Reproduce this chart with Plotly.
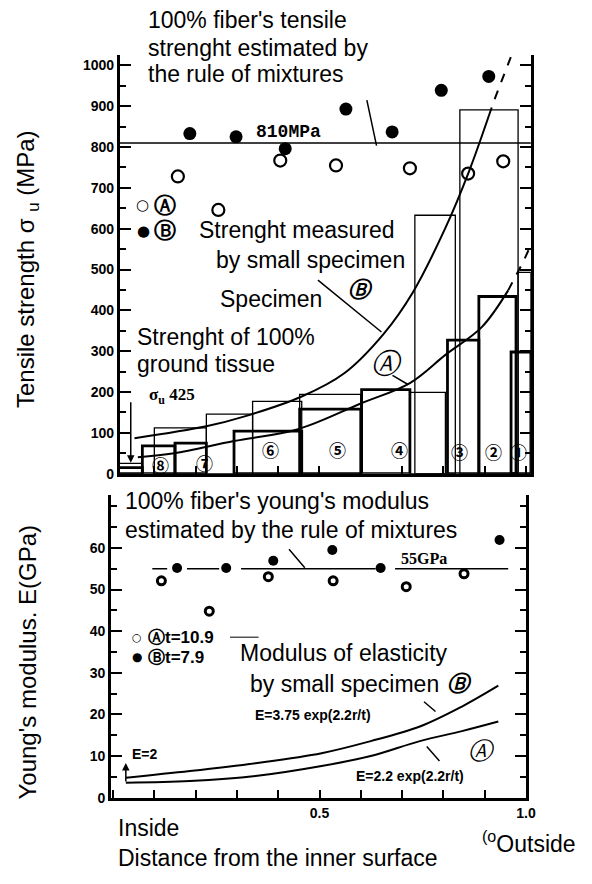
import plotly.graph_objects as go

W, H = 592, 884

# ---------------- DATA ----------------
# Top panel: tensile strength (MPa) vs relative distance r/t
ref_tensile = 810  # rule of mixtures estimate

solid_B_x = [0.186, 0.298, 0.417, 0.564, 0.676, 0.795, 0.910]
solid_B_y = [833, 825, 796, 893, 837, 939, 973]
open_A_x = [0.157, 0.255, 0.405, 0.540, 0.719, 0.860, 0.945]
open_A_y = [728, 646, 767, 755, 748, 735, 765]

curveA_x = [0.060, 0.148, 0.293, 0.448, 0.600, 0.719, 0.805, 0.893, 0.957]
curveA_y = [40, 50, 80, 109, 172, 222, 291, 359, 449]
curveA_dash_x = [0.957, 0.995, 1.014]
curveA_dash_y = [449, 522, 565]

curveB_x = [0.052, 0.226, 0.321, 0.457, 0.560, 0.655, 0.726, 0.805, 0.862, 0.910]
curveB_y = [87, 116, 141, 189, 246, 342, 444, 602, 740, 876]
curveB_dash_x = [0.910, 0.924, 0.964]
curveB_dash_y = [876, 917, 1022]

# small-specimen strength blocks (left edge, right edge, height)
thin_x0 = [0.000, 0.100, 0.226, 0.338, 0.452, 0.719, 0.731, 0.840, 0.981]
thin_x1 = [0.071, 0.226, 0.338, 0.457, 0.600, 0.805, 0.829, 0.981, 1.012]
thin_h = [25, 112, 146, 177, 194, 199, 633, 891, 493]
thick_x0 = [0.000, 0.071, 0.150, 0.293, 0.452, 0.602, 0.810, 0.886, 0.964]
thick_x1 = [0.071, 0.150, 0.226, 0.457, 0.600, 0.719, 0.886, 0.976, 1.012]
thick_h = [15, 68, 75, 104, 158, 206, 327, 434, 298]

region_labels = ["①", "②", "③", "④", "⑤", "⑥", "⑦", "⑧", "⑨"]
region_x = [0.983, 0.921, 0.840, 0.695, 0.543, 0.381, 0.221, 0.114, 0.036]
region_y = [55, 55, 55, 58, 58, 58, 27, 22, -17]

# Bottom panel: Young's modulus (GPa)
ref_modulus = 55
mix_seg_x0 = [0.095, 0.179, 0.310, 0.683]
mix_seg_x1 = [0.131, 0.257, 0.636, 0.957]

modB_x = [0.155, 0.274, 0.388, 0.531, 0.648, 0.936]
modB_y = [55.2, 55.2, 56.9, 59.5, 55.2, 61.9]
modA_x = [0.117, 0.233, 0.376, 0.533, 0.710, 0.850]
modA_y = [52.1, 44.8, 53.1, 52.1, 50.7, 53.8]

EB_x = [0.031, 0.186, 0.345, 0.505, 0.624, 0.743, 0.845, 0.933]
EB_y = [4.8, 6.4, 8.3, 10.7, 13.6, 17.1, 21.9, 26.9]
EA_x = [0.031, 0.186, 0.345, 0.505, 0.624, 0.743, 0.845, 0.933]
EA_y = [3.6, 4.0, 5.2, 7.6, 10.0, 13.6, 16.0, 18.3]

top_yticks = list(range(0, 1001, 100))
bot_yticks = list(range(0, 61, 10))
bot_xticks = [0.5, 1.0]
bot_xticklabels = ["0.5", "1.0"]

# ---------------- FIGURE ----------------
def px(x):
    return x / W

def py(y):
    return 1 - y / H

SANS = "Liberation Sans"
CJK = "Noto Sans CJK JP"
fig = go.Figure()

def bar_trace(x0, x1, h, lw):
    return go.Bar(
        x=[(a + b) / 2 for a, b in zip(x0, x1)],
        y=h,
        width=[b - a for a, b in zip(x0, x1)],
        marker=dict(color="rgba(0,0,0,0)", line=dict(color="black", width=lw)),
        xaxis="x", yaxis="y", showlegend=False, hoverinfo="skip",
    )

fig.add_trace(bar_trace(thin_x0, thin_x1, thin_h, 1.3))
fig.add_trace(bar_trace(thick_x0, thick_x1, thick_h, 2.8))

line_kw = dict(mode="lines", showlegend=False, hoverinfo="skip")
fig.add_trace(go.Scatter(x=[0.0167, 1.012], y=[ref_tensile] * 2,
                         line=dict(color="black", width=1.5), xaxis="x", yaxis="y", **line_kw))
fig.add_trace(go.Scatter(x=curveA_x, y=curveA_y, line=dict(color="black", width=2, shape="spline"),
                         xaxis="x", yaxis="y", **line_kw))
fig.add_trace(go.Scatter(x=curveA_dash_x, y=curveA_dash_y, line=dict(color="black", width=2, dash="dash"),
                         xaxis="x", yaxis="y", **line_kw))
fig.add_trace(go.Scatter(x=curveB_x, y=curveB_y, line=dict(color="black", width=2, shape="spline"),
                         xaxis="x", yaxis="y", **line_kw))
fig.add_trace(go.Scatter(x=curveB_dash_x, y=curveB_dash_y, line=dict(color="black", width=2, dash="dash"),
                         xaxis="x", yaxis="y", **line_kw))
fig.add_trace(go.Scatter(x=solid_B_x, y=solid_B_y, mode="markers",
                         marker=dict(size=13, color="black"), xaxis="x", yaxis="y",
                         showlegend=False, hoverinfo="skip"))
fig.add_trace(go.Scatter(x=open_A_x, y=open_A_y, mode="markers",
                         marker=dict(size=12, symbol="circle-open", color="black", line=dict(width=2.2)),
                         xaxis="x", yaxis="y", showlegend=False, hoverinfo="skip"))

mx, my = [], []
for a, b in zip(mix_seg_x0, mix_seg_x1):
    mx += [a, b, None]
    my += [ref_modulus, ref_modulus, None]
fig.add_trace(go.Scatter(x=mx, y=my, line=dict(color="black", width=1.5), xaxis="x2", yaxis="y2", **line_kw))
fig.add_trace(go.Scatter(x=EB_x, y=EB_y, line=dict(color="black", width=2, shape="spline"),
                         xaxis="x2", yaxis="y2", **line_kw))
fig.add_trace(go.Scatter(x=EA_x, y=EA_y, line=dict(color="black", width=2, shape="spline"),
                         xaxis="x2", yaxis="y2", **line_kw))
fig.add_trace(go.Scatter(x=modB_x, y=modB_y, mode="markers", marker=dict(size=10, color="black"),
                         xaxis="x2", yaxis="y2", showlegend=False, hoverinfo="skip"))
fig.add_trace(go.Scatter(x=modA_x, y=modA_y, mode="markers",
                         marker=dict(size=8, symbol="circle-open", color="black", line=dict(width=3)),
                         xaxis="x2", yaxis="y2", showlegend=False, hoverinfo="skip"))

ann = []

def text(t, x, y, size=23, anchor="left", family=SANS, weight="normal", style="normal", angle=0):
    ann.append(dict(text=t, x=px(x), y=py(y), xref="paper", yref="paper", showarrow=False,
                    xanchor=anchor, yanchor="middle", textangle=angle,
                    font=dict(family=family, size=size, color="black", weight=weight, style=style)))

def pointer(x1, y1, x2, y2, head=0, w=1.5):
    ann.append(dict(text="", x=px(x2), y=py(y2), ax=x1 - x2, ay=y1 - y2, xref="paper", yref="paper",
                    axref="pixel", ayref="pixel", showarrow=True, arrowhead=head, arrowwidth=w,
                    arrowsize=1, arrowcolor="black", standoff=0, startstandoff=0))

# top texts
text("100% fiber's tensile", 148, 20)
text("strenght estimated by", 148, 48)
text("the rule of mixtures", 148, 75)
text("Strenght measured", 200, 232)
text("by small specimen", 218, 262)
text("Specimen", 222, 302)
text("Strenght of 100%", 137, 340)
text("ground tissue", 137, 367)
text("σ<sub>u</sub> 425", 150, 400, size=17, family="Liberation Serif", weight="bold")
text("810MPa", 258, 133, size=18, family="Liberation Mono", weight="bold")
text("○", 145, 207, size=15, anchor="center", family="DejaVu Sans")
text("●", 146, 233, size=15, anchor="center", family="DejaVu Sans")
text("Ⓐ", 168, 207, size=22, anchor="center", family="DejaVu Sans", weight="bold")
text("Ⓑ", 168, 233, size=22, anchor="center", family="DejaVu Sans", weight="bold")
text("Ⓑ", 367, 292, size=22, anchor="center", family="DejaVu Sans", style="italic", weight="bold")
text("Ⓐ", 393, 367, size=28, anchor="center", family="DejaVu Sans", style="italic")
pointer(373, 100, 383, 147)
pointer(323, 282, 388, 335)
pointer(398, 378, 415, 388)
pointer(133, 405, 133, 467, head=2, w=1.5)

for lab, rx, ry in zip(region_labels, region_x, region_y):
    ann.append(dict(text=lab, x=rx, y=ry, xref="x", yref="y", showarrow=False,
                    font=dict(family=CJK, size=17, color="black", weight="bold")))

# bottom texts
text("100% fiber's young's modulus", 125, 506)
text("estimated by the rule of mixtures", 125, 535)
text("55GPa", 406, 564, size=16, family="Liberation Serif", weight="bold")
text("○", 139, 643, size=11, anchor="center", family="DejaVu Sans", weight="bold")
text("●", 139, 663, size=12, anchor="center", family="DejaVu Sans")
text("Ⓐt=10.9", 148, 643, size=17, weight="bold")
text("Ⓑt=7.9", 148, 664, size=17, weight="bold")
text("Modulus of elasticity", 242, 659)
text("by small specimen", 252, 690)
text("Ⓑ", 467, 690, size=22, anchor="center", family="DejaVu Sans", style="italic", weight="bold")
text("E=3.75 exp(2.2r/t)", 257, 722, size=14, weight="bold")
text("E=2.2 exp(2.2r/t)", 360, 783, size=14, weight="bold")
text("Ⓐ", 490, 758, size=24, anchor="center", family="DejaVu Sans", style="italic")
text("E=2", 132, 761, size=14, weight="bold")
pointer(293, 553, 310, 573)
pointer(430, 707, 443, 718)
pointer(433, 752, 447, 768)
pointer(128, 790, 128, 770, head=2, w=1.5)
pointer(233, 643, 263, 643, w=1)

text("Inside", 118, 836)
text("<sup>(o</sup>Outside", 488, 850)
text("Distance from the inner surface", 118, 866)

text("Tensile strength σ <sub>u</sub> (MPa)", 28, 272, size=24, anchor="center", angle=-90)
text("Young's modulus. E(GPa)", 28, 668, size=24, anchor="center", angle=-90)

tickfont = dict(family=SANS, size=14, color="black", weight="bold")
axis_common = dict(showgrid=False, zeroline=False, linecolor="black", linewidth=3,
                   showline=True, ticks="inside", tickcolor="black", tickwidth=2)

fig.update_layout(
    width=W, height=H, margin=dict(l=0, r=0, t=0, b=0),
    paper_bgcolor="white", plot_bgcolor="white", barmode="overlay", showlegend=False,
    xaxis=dict(domain=[px(122), px(540)], range=[0.0167, 1.012], anchor="y",
               dtick=0.1, tick0=0, ticklen=8, showticklabels=False, mirror=False, **axis_common),
    yaxis=dict(domain=[py(478), py(55)], range=[0, 1026.7], anchor="x",
               tickvals=top_yticks, ticklen=11, tickfont=tickfont, mirror="ticks",
               minor=dict(dtick=50, ticks="inside", ticklen=6, tickcolor="black", tickwidth=2),
               **axis_common),
    xaxis2=dict(domain=[px(113), px(535)], range=[-0.0048, 1.0], anchor="y2",
                tickvals=bot_xticks, ticktext=bot_xticklabels, ticklen=8, tickfont=tickfont,
                minor=dict(dtick=0.1, tick0=0, ticks="inside", ticklen=8, tickcolor="black", tickwidth=2),
                mirror=False, **axis_common),
    yaxis2=dict(domain=[py(805), py(500)], range=[0, 72.6], anchor="x2",
                tickvals=bot_yticks, ticklen=11, tickfont=tickfont, mirror="ticks",
                minor=dict(dtick=5, ticks="inside", ticklen=6, tickcolor="black", tickwidth=2),
                **axis_common),
    annotations=ann,
)

fig.write_html("out.html")
